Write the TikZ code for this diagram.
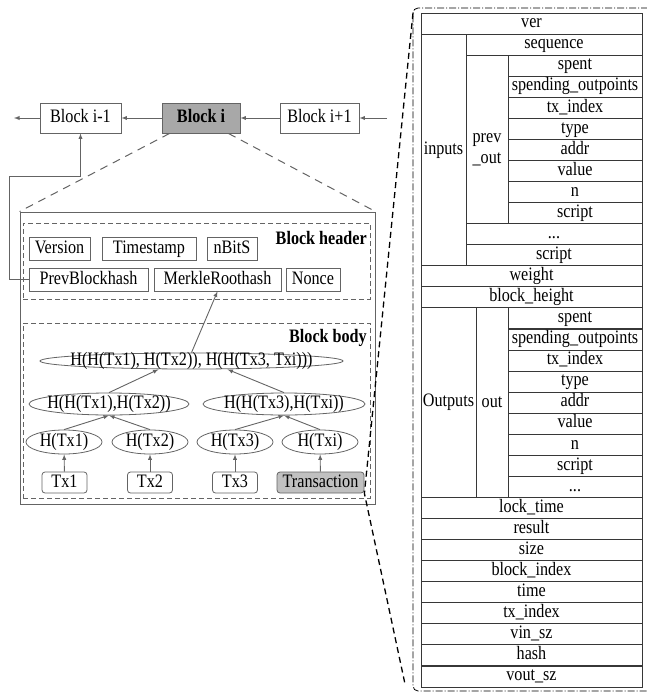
\documentclass[tikz,border=0pt]{standalone}
\usepackage{fontspec}
\setmainfont[FakeStretch=0.85]{Liberation Serif}
\usepackage{tikz}
\usetikzlibrary{shapes,arrows,positioning,calc}
\definecolor{linegray}{RGB}{100,100,100}
\definecolor{blockgray}{RGB}{168,168,168}
\definecolor{txgray}{RGB}{192,192,192}
\definecolor{tablegray}{RGB}{55,55,55}

\begin{document}
\fontsize{19}{21}\selectfont
\begin{tikzpicture}[x=1pt,y=-1pt,
    blockbox/.style={draw=linegray,line width=0.9pt,minimum height=30pt,inner sep=0pt,text height=13pt,text depth=4pt},
    field/.style={draw=linegray,line width=0.8pt,minimum height=23pt,inner sep=0pt,text height=13pt,text depth=4pt},
    txbox/.style={draw=linegray,line width=0.8pt,rounded corners=3pt,minimum width=45pt,minimum height=21pt,inner sep=0pt,text height=13pt,text depth=4pt},
    hashnode/.style={ellipse,draw=linegray,line width=0.8pt,inner sep=0pt},
    link/.style={draw=linegray,line width=0.9pt,-latex},
    cell/.style={draw=tablegray,line width=0.9pt,inner sep=0pt,minimum height=21.06pt,text height=12.5pt,text depth=4pt},
    span/.style={draw=tablegray,line width=0.9pt,inner sep=0pt,align=center}]
    \useasboundingbox (0,0) rectangle (646,695);

    % chain of blocks
    \node[blockbox,minimum width=81pt] (blockprev) at (80.5,118) {Block i-1};
    \node[blockbox,fill=blockgray,minimum width=78pt,font=\bfseries] (blocki) at (201,118) {Block i};
    \node[blockbox,minimum width=79pt] (blocknext) at (319.5,118) {Block i+1};
    \coordinate (chainin) at (387,118);
    \coordinate (chainout) at (14,118);
    \draw[link] (chainin) -- (blocknext);
    \draw[link] (blocknext) -- (blocki);
    \draw[link] (blocki) -- (blockprev);
    \draw[link] (blockprev) -- (chainout);

    % inside of block i
    \node[draw=linegray,line width=0.9pt,minimum width=355pt,minimum height=292pt,inner sep=0pt] (detail) at (197.5,358) {};
    \draw[linegray,line width=1pt,dash pattern=on 8pt off 6pt] ([xshift=8pt]blocki.south west) -- (detail.north west);
    \draw[linegray,line width=1pt,dash pattern=on 8pt off 6pt] ([xshift=-12pt]blocki.south east) -- (detail.north east);

    % header
    \node[draw=linegray,line width=0.8pt,dash pattern=on 5pt off 3pt,minimum width=347pt,minimum height=76pt,inner sep=0pt] (header) at (196.5,261) {};
    \node[anchor=east,font=\bfseries,inner sep=0pt] (headerlbl) at (367,238) {Block header};
    \node[field,minimum width=61pt] (version) at (59.5,248.5) {Version};
    \node[field,minimum width=94pt] (timestamp) at (149,248.5) {Timestamp};
    \node[field,minimum width=50pt] (nbits) at (232,248.5) {nBitS};
    \node[field,minimum width=119pt] (prevhash) at (88.5,279.5) {PrevBlockhash};
    \node[field,minimum width=127pt] (merkle) at (217.5,279.5) {MerkleRoothash};
    \node[field,minimum width=54pt] (nonce) at (313,279.5) {Nonce};
    \draw[link] (prevhash.west) -- ++(-19.5,0) -- ++(0,-103.5) -| (blockprev.south);

    % body: merkle tree
    \node[draw=linegray,line width=0.8pt,dash pattern=on 5pt off 3pt,minimum width=347pt,minimum height=175pt,inner sep=0pt] (body) at (196.5,410.5) {};
    \node[anchor=east,font=\bfseries,inner sep=0pt] (bodylbl) at (367,338) {Block body};
    \node[hashnode,minimum width=303pt,minimum height=16pt,label=center:{H(H(Tx1), H(Tx2)), H(H(Tx3, Txi)))}] (root) at (191.5,361) {};
    \node[hashnode,minimum width=160pt,minimum height=22pt,label=center:{H(H(Tx1),H(Tx2))}] (hleft) at (109,404) {};
    \node[hashnode,minimum width=162pt,minimum height=22pt,label=center:{H(H(Tx3),H(Txi))}] (hright) at (284,404) {};
    \node[hashnode,minimum width=76pt,minimum height=24pt,label=center:{H(Tx1)}] (htx1) at (64,442) {};
    \node[hashnode,minimum width=76pt,minimum height=24pt,label=center:{H(Tx2)}] (htx2) at (150,442) {};
    \node[hashnode,minimum width=76pt,minimum height=24pt,label=center:{H(Tx3)}] (htx3) at (235,442) {};
    \node[hashnode,minimum width=76pt,minimum height=24pt,label=center:{H(Txi)}] (htxi) at (320,442) {};
    \node[txbox] (tx1) at (64.5,482.5) {Tx1};
    \node[txbox] (tx2) at (150,482.5) {Tx2};
    \node[txbox] (tx3) at (235,482.5) {Tx3};
    \node[txbox,fill=txgray,minimum width=87pt] (trans) at (320.5,482.5) {Transaction};
    \draw[link] (tx1) -- (htx1);
    \draw[link] (tx2) -- (htx2);
    \draw[link] (tx3) -- (htx3);
    \draw[link] (trans) -- (htxi);
    \draw[link] (htx1.north) -- (hleft.south);
    \draw[link] (htx2.north) -- (hleft.south);
    \draw[link] (htx3.north) -- (hright.south);
    \draw[link] (htxi.north) -- (hright.south);
    \draw[link] (hleft.north) -- ([xshift=-33pt]root.south);
    \draw[link] (hright.north) -- ([xshift=36pt]root.south);
    \draw[link] (root.north) -- (merkle.south);

    % zoom onto the transaction
    \draw[black,line width=0.8pt,dash pattern=on 7pt off 2pt on 1pt off 2pt,rounded corners=5pt] (660,8) -- (413,8) -- (413,691) -- (660,691);
    \coordinate (frametop) at (413,13);
    \coordinate (framebot) at (405,684);
    \draw[black,line width=1.3pt,dash pattern=on 6pt off 4pt] (frametop) -- (trans.south east) -- (framebot);

    % transaction fields
    \node[cell,minimum width=221pt] (ver) at (531.5,23.5) {ver};
    \node[span,minimum width=45pt,minimum height=231.7pt] (inputs) at (443.5,149.9) {inputs};
    \node[cell,minimum width=176pt] (sequence) at (554,44.6) {sequence};
    \node[span,minimum width=42pt,minimum height=168.5pt,label={[align=center,yshift=-10pt]center:prev\\\_out}] (prevout) at (487,139.4) {};
    \node[cell,minimum width=134pt] (inspent) at (575,65.7) {spent};
    \node[cell,minimum width=134pt] (inspending) at (575,86.7) {spending\_outpoints};
    \node[cell,minimum width=134pt] (intxindex) at (575,107.8) {tx\_index};
    \node[cell,minimum width=134pt] (intype) at (575,128.8) {type};
    \node[cell,minimum width=134pt] (inaddr) at (575,149.9) {addr};
    \node[cell,minimum width=134pt] (invalue) at (575,171) {value};
    \node[cell,minimum width=134pt] (inn) at (575,192) {n};
    \node[cell,minimum width=134pt] (inscript) at (575,213.1) {script};
    \node[cell,minimum width=176pt] (inmore) at (554,234.2) {...};
    \node[cell,minimum width=176pt] (script) at (554,255.2) {script};
    \node[cell,minimum width=221pt] (weight) at (531.5,276.3) {weight};
    \node[cell,minimum width=221pt] (blockheight) at (531.5,297.3) {block\_height};
    \node[span,minimum width=55pt,minimum height=189.6pt] (outputs) at (448.5,402.7) {Outputs};
    \node[span,minimum width=32pt,minimum height=189.6pt] (out) at (492,402.7) {out};
    \node[cell,minimum width=134pt] (outspent) at (575,318.4) {spent};
    \node[cell,minimum width=134pt] (outspending) at (575,339.5) {spending\_outpoints};
    \node[cell,minimum width=134pt] (outtxindex) at (575,360.5) {tx\_index};
    \node[cell,minimum width=134pt] (outtype) at (575,381.6) {type};
    \node[cell,minimum width=134pt] (outaddr) at (575,402.7) {addr};
    \node[cell,minimum width=134pt] (outvalue) at (575,423.7) {value};
    \node[cell,minimum width=134pt] (outn) at (575,444.8) {n};
    \node[cell,minimum width=134pt] (outscript) at (575,465.8) {script};
    \node[cell,minimum width=134pt] (outmore) at (575,486.9) {...};
    \node[cell,minimum width=221pt] (locktime) at (531.5,508) {lock\_time};
    \node[cell,minimum width=221pt] (result) at (531.5,529) {result};
    \node[cell,minimum width=221pt] (size) at (531.5,550.1) {size};
    \node[cell,minimum width=221pt] (blockindex) at (531.5,571.2) {block\_index};
    \node[cell,minimum width=221pt] (time) at (531.5,592.2) {time};
    \node[cell,minimum width=221pt] (txindex) at (531.5,613.3) {tx\_index};
    \node[cell,minimum width=221pt] (vinsz) at (531.5,634.3) {vin\_sz};
    \node[cell,minimum width=221pt] (hash) at (531.5,655.4) {hash};
    \node[cell,minimum width=221pt] (voutsz) at (531.5,676.5) {vout\_sz};
\end{tikzpicture}
\end{document}
